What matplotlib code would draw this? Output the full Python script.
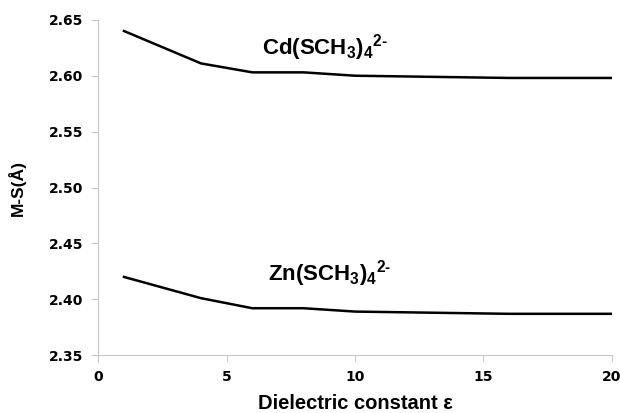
import matplotlib
matplotlib.use("Agg")
import matplotlib.pyplot as plt

# dielectric constant values and M-S bond lengths (Angstrom)
eps = [1, 4, 6, 8, 10, 16, 20]
cd_ms = [2.640, 2.611, 2.603, 2.603, 2.600, 2.598, 2.598]
zn_ms = [2.420, 2.401, 2.392, 2.392, 2.389, 2.387, 2.387]

plt.rcParams['font.family'] = ['Liberation Sans', 'DejaVu Sans']
plt.rcParams['mathtext.fontset'] = 'custom'
plt.rcParams['mathtext.rm'] = 'Liberation Sans:bold'
plt.rcParams['mathtext.it'] = 'Liberation Sans:bold'
plt.rcParams['mathtext.bf'] = 'Liberation Sans:bold'
plt.rcParams['mathtext.default'] = 'rm'

fig = plt.figure(figsize=(6.2, 4.13), dpi=100)
ax = fig.add_axes([0.1586, 0.140, 0.828, 0.812])

ax.plot(eps, cd_ms, color="black", lw=1.8)
ax.plot(eps, zn_ms, color="black", lw=1.8)

ax.set_xlim(0, 20)
ax.set_ylim(2.35, 2.65)
ax.set_xticks([0, 5, 10, 15, 20])
ax.set_yticks([2.35, 2.40, 2.45, 2.50, 2.55, 2.60, 2.65])
ax.set_yticklabels(["%.2f" % v for v in ax.get_yticks()])

for s in ["top", "right"]:
    ax.spines[s].set_visible(False)
for s in ["left", "bottom"]:
    ax.spines[s].set_color("#c8c8c8")
ax.tick_params(colors="#c8c8c8", length=5, direction="out")
for lab in ax.get_xticklabels() + ax.get_yticklabels():
    lab.set_color("black")
    lab.set_fontweight("bold")
    lab.set_fontsize(10)
    lab.set_family("DejaVu Sans")
ax.tick_params(axis="x", pad=6)
ax.tick_params(axis="y", pad=6)

ax.set_xlabel("Dielectric constant \u03b5", fontsize=14.5, fontweight="bold", labelpad=7)
ax.set_ylabel("M-S(\u00c5)", fontsize=12.5, fontweight="bold", labelpad=16)

ax.text(6.38, 2.619, "Cd(SCH$_3$)$_4$$^{2\u2010}$", fontsize=16, fontweight="bold")
ax.text(6.61, 2.417, "Zn(SCH$_3$)$_4$$^{2\u2010}$", fontsize=16, fontweight="bold")

fig.savefig("out.png", dpi=100)
